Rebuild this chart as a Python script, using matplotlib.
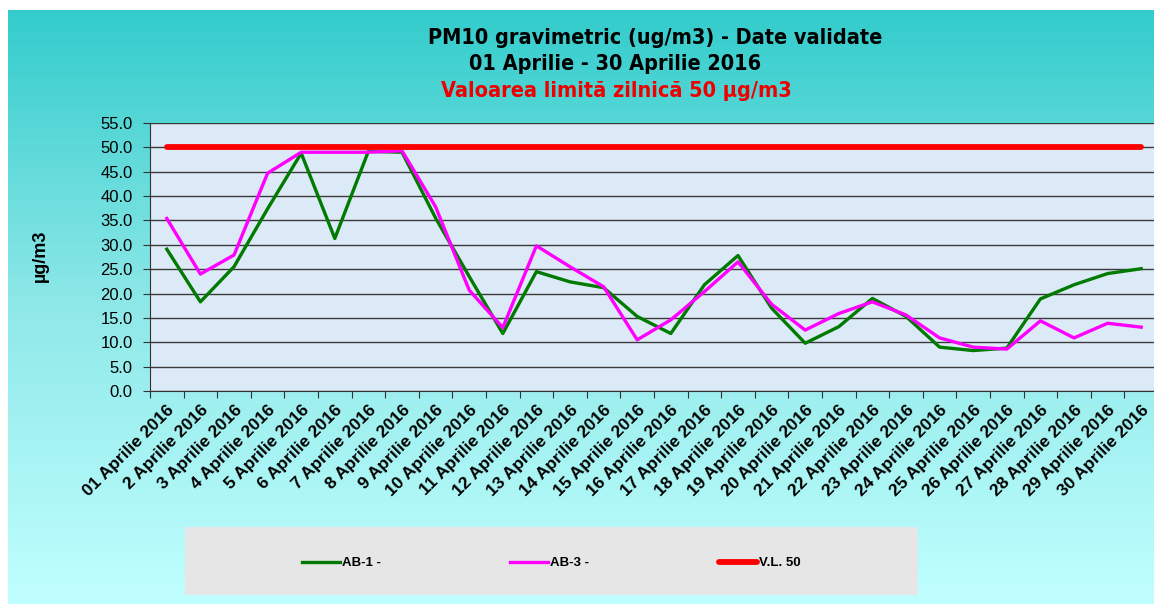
import matplotlib
matplotlib.use("Agg")
import matplotlib.pyplot as plt
import numpy as np
from matplotlib.patches import Rectangle
from matplotlib.colors import LinearSegmentedColormap

# ---- data ----
days = [f"{d:02d} Aprilie 2016" if d == 1 else f"{d} Aprilie 2016" for d in range(1, 31)]
ab1 = [29.1, 18.3, 25.5, 37.4, 48.8, 31.3, 49.2, 49.0, 35.5, 23.5,
       11.8, 24.5, 22.4, 21.2, 15.3, 11.8, 21.8, 27.8, 17.0, 9.8,
       13.2, 19.0, 15.3, 9.0, 8.3, 8.8, 18.9, 21.8, 24.1, 25.1]
ab3 = [35.4, 24.0, 27.9, 44.7, 49.0, 49.0, 49.0, 49.3, 37.8, 20.7,
       13.0, 29.8, 25.5, 21.4, 10.5, 14.6, 20.4, 26.5, 17.8, 12.5,
       15.9, 18.3, 15.6, 10.9, 9.0, 8.6, 14.4, 10.9, 13.9, 13.1]
vl50 = [50.0] * 30
series_names = ["AB-1 -", "AB-3 -", "V.L. 50"]
yticks = [0, 5, 10, 15, 20, 25, 30, 35, 40, 45, 50, 55]

W, H = 1154, 604
fig = plt.figure(figsize=(W / 100, H / 100), dpi=100)
fig.patch.set_facecolor("white")

# gradient background
bg = fig.add_axes([8 / W, 0, 1 - 8 / W, 1 - 10 / H], zorder=-10)
cmap = LinearSegmentedColormap.from_list("tealgrad", ["#33CCCC", "#8FE8E8", "#C0FFFF"])
grad = np.linspace(0, 1, 256).reshape(-1, 1)
bg.imshow(grad, aspect="auto", cmap=cmap, extent=[0, 1, 0, 1], origin="upper")
bg.set_axis_off()

# main axes
left, right, top, bottom = 150, 1158, 123, 391
ax = fig.add_axes([left / W, 1 - bottom / H, (right - left) / W, (bottom - top) / H])
ax.set_facecolor("#DCEAF7")

x = np.arange(len(days))
ax.plot(x, ab1, color="#007A00", lw=2.4, label=series_names[0], zorder=3)
ax.plot(x, ab3, color="#FF00FF", lw=2.4, label=series_names[1], zorder=4)
ax.plot(x, vl50, color="#FF0000", lw=4.2, solid_capstyle="round", label=series_names[2], zorder=5)

ax.set_xlim(-0.5, len(days) - 0.5)
ax.set_ylim(0, 55)
ax.set_yticks(yticks)
ax.set_yticklabels([f"{v:.1f}" for v in yticks], fontsize=12, family="Liberation Sans")
ax.yaxis.grid(True, color="#3A3A3A", lw=1.0)
ax.set_axisbelow(True)

ax.set_xticks(np.arange(-0.5, len(days), 1.0))
ax.set_xticklabels([])
ax.set_xticks(x, minor=True)
ax.set_xticklabels(days, minor=True, rotation=45, ha="right", rotation_mode="anchor",
                   fontsize=12.5, fontweight="bold", family="Liberation Sans")
ax.tick_params(axis="x", which="major", length=5, direction="out", color="#333333")
ax.tick_params(axis="x", which="minor", length=0, pad=8)
ax.tick_params(axis="y", length=5, direction="out", color="#333333", pad=7.5)

for s in ["top", "right"]:
    ax.spines[s].set_visible(False)
ax.spines["left"].set_color("#333333")
ax.spines["bottom"].set_color("#333333")

fig.text(40 / W, 1 - 256 / H, "µg/m3", rotation=90, ha="center", va="center",
         fontsize=13, fontweight="bold", family="Liberation Sans")

# titles
tfam = ["DejaVu Sans Condensed", "DejaVu Sans"]
tkw = dict(ha="center", va="baseline", fontsize=15.5, fontweight="bold",
           family=tfam, fontstretch="condensed")
fig.text(655 / W, 1 - 44 / H, "PM10 gravimetric (ug/m3) - Date validate", color="black", **tkw)
fig.text(615 / W, 1 - 70 / H, "01 Aprilie - 30 Aprilie 2016", color="black", **tkw)
fig.text(616 / W, 1 - 97 / H, "Valoarea limită zilnică 50 µg/m3", color="#EE0000", **tkw)

# legend box
fig.patches.append(Rectangle((185 / W, 1 - 595 / H), (918 - 185) / W, (595 - 527) / H,
                             transform=fig.transFigure, facecolor="#E6E6E6", edgecolor="none", zorder=1))
handles, labels = ax.get_legend_handles_labels()
leg = fig.legend(handles, labels, loc="center", bbox_to_anchor=(551 / W, 1 - 563 / H), ncol=3,
                 frameon=False, handlelength=2.9, handletextpad=0.15, columnspacing=9.8,
                 prop={"family": "Liberation Sans", "weight": "bold", "size": 9.5})
leg.set_zorder(5)

fig.savefig("out.png", dpi=100)
